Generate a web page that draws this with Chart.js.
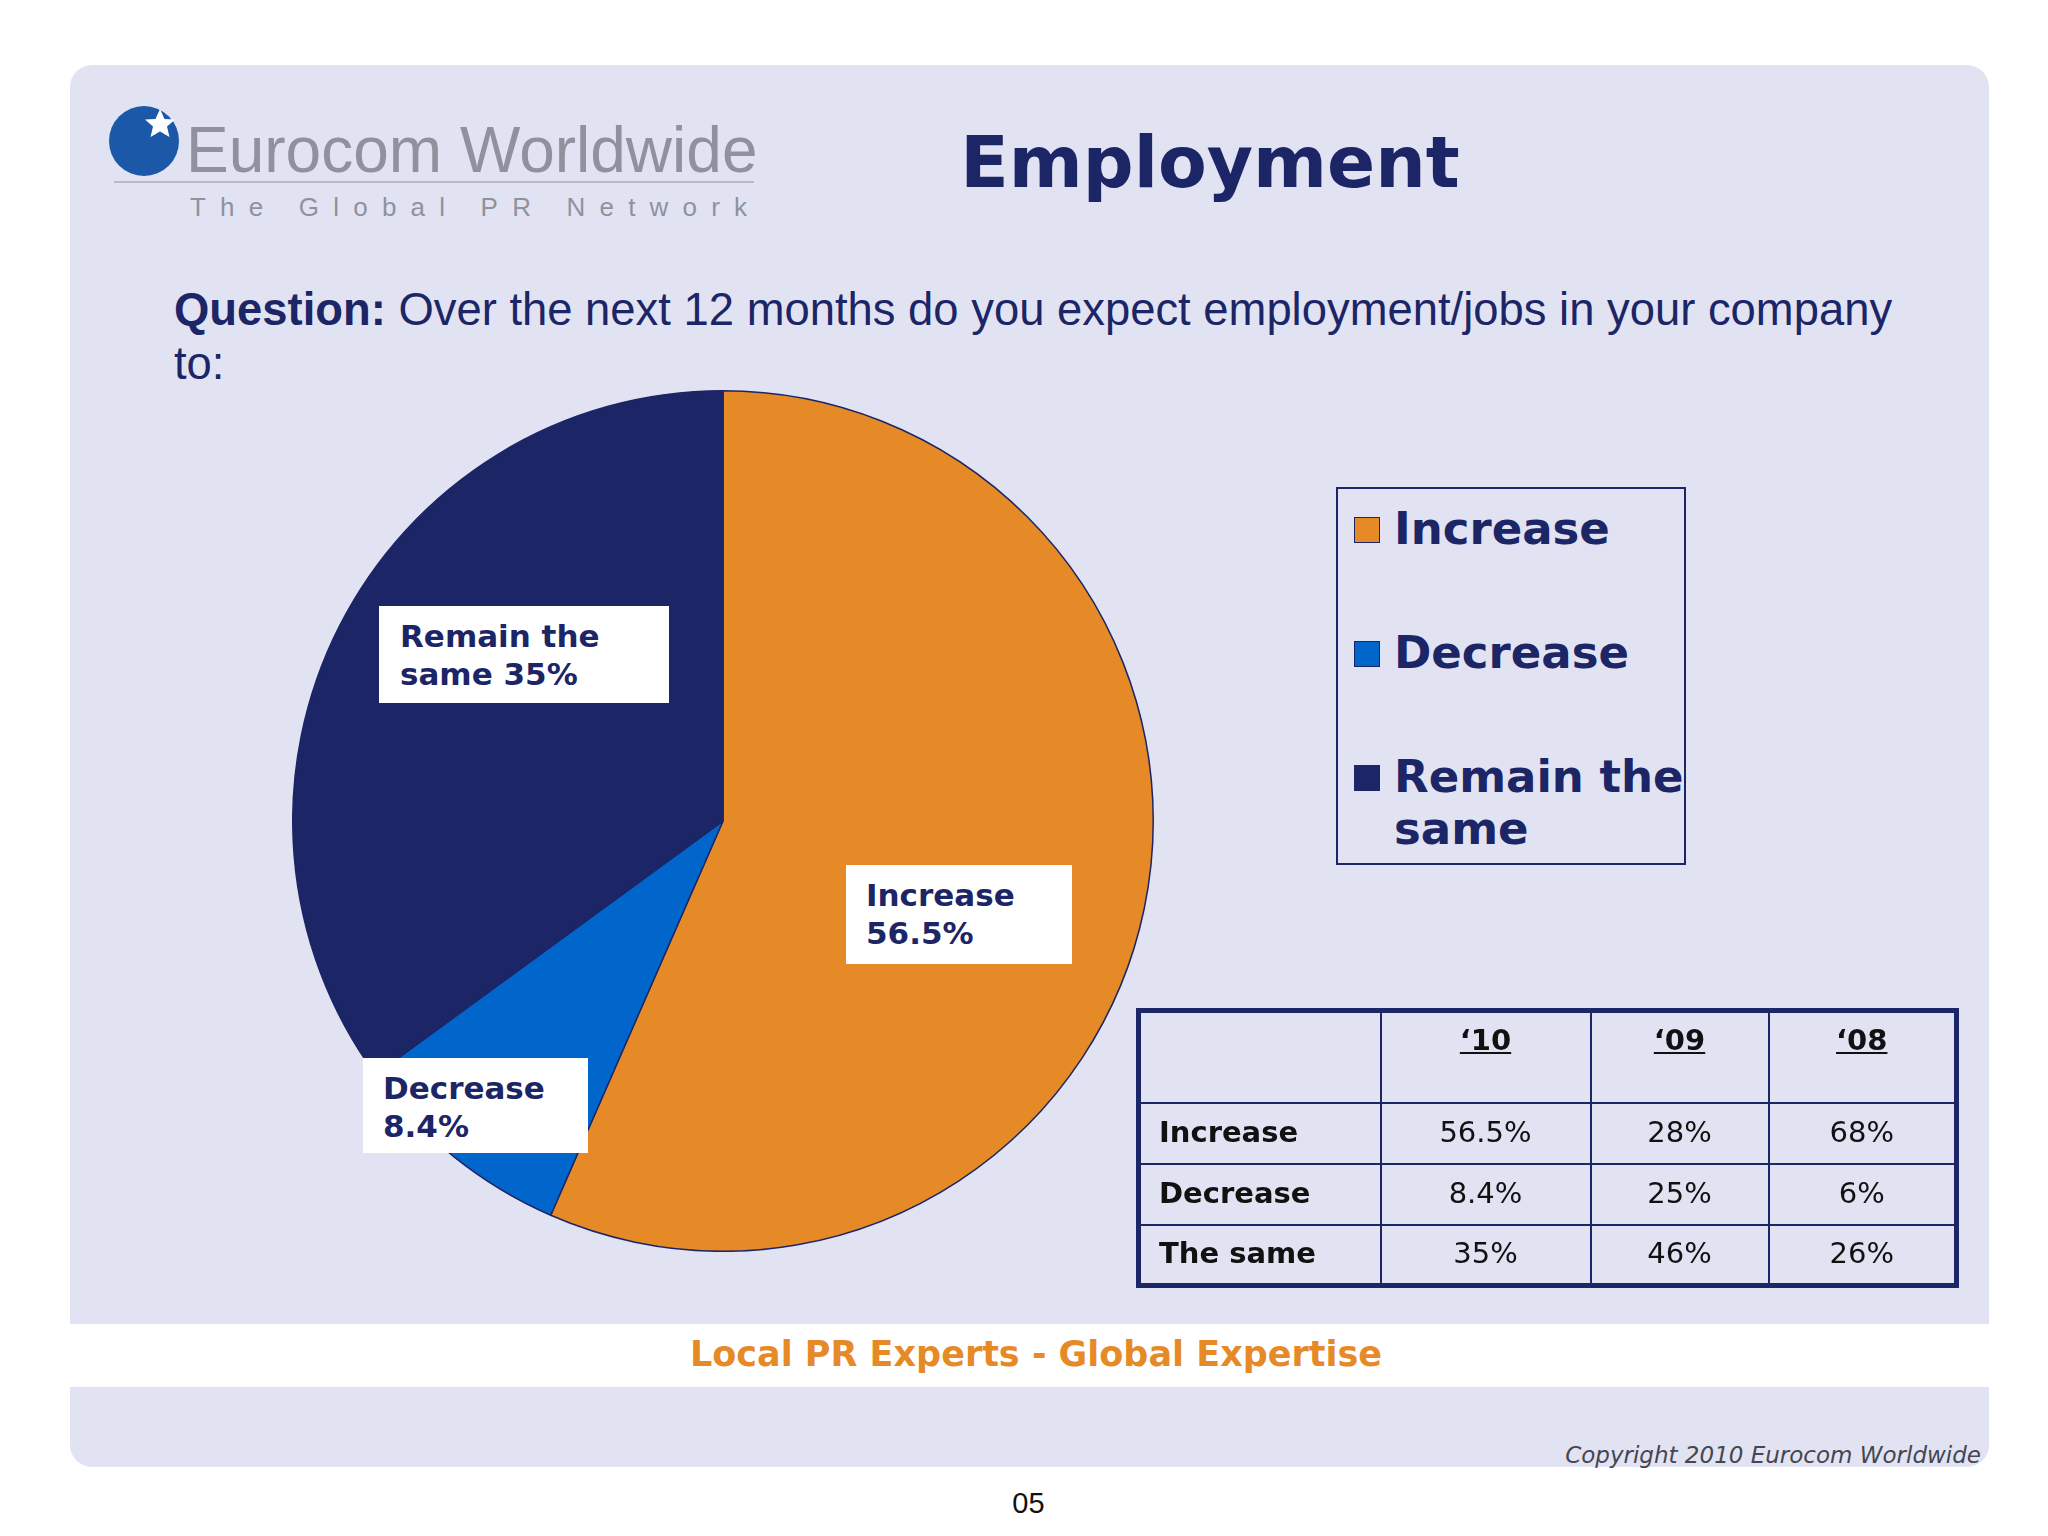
<!DOCTYPE html>
<html>
<head>
<meta charset="utf-8">
<script src="https://cdn.jsdelivr.net/npm/chart.js@4.4.1/dist/chart.umd.min.js"></script>
<style>
  html,body{margin:0;padding:0;background:#ffffff;width:2048px;height:1536px;overflow:hidden;}
  #page{position:relative;width:2048px;height:1536px;}
  .panel{position:absolute;left:70px;top:65px;width:1919px;height:1402px;background:#e1e3f3;border-radius:22px;}
  .band{position:absolute;left:70px;top:1324px;width:1919px;height:63px;background:#ffffff;}
  .logoText{position:absolute;left:186px;top:113px;font-family:"Liberation Sans",Arial,sans-serif;font-size:64px;color:#8f929c;}
  .logoLine{position:absolute;left:114px;top:181px;width:640px;height:2px;background:#b9bbc6;}
  .logoSub{position:absolute;left:190px;top:192px;font-family:"Liberation Sans",Arial,sans-serif;font-size:26px;color:#8f929c;letter-spacing:14.2px;}
  .title{position:absolute;left:900px;width:620px;top:121px;text-align:center;font-family:"DejaVu Sans",Verdana,sans-serif;font-weight:bold;font-size:71px;color:#1c2566;}
  .question{position:absolute;left:174px;top:283px;width:1860px;white-space:nowrap;font-family:"Liberation Sans",Arial,sans-serif;font-size:45.4px;line-height:54px;color:#1c2566;}
  .question b{font-weight:bold;}
  #chartBox{position:absolute;left:292px;top:390px;width:862px;height:862px;}
  .plabel{position:absolute;background:#ffffff;font-family:"DejaVu Sans",Verdana,sans-serif;font-weight:bold;font-size:31px;line-height:38px;color:#1c2566;box-sizing:border-box;}
  .legend{position:absolute;left:1336px;top:487px;width:350px;height:378px;border:2px solid #1c2566;box-sizing:border-box;font-family:"DejaVu Sans",Verdana,sans-serif;font-weight:bold;font-size:45px;color:#1c2566;}
  .legItem{position:absolute;left:56px;line-height:52px;}
  .legSw{position:absolute;width:26px;height:26px;left:16px;}
  table.data{position:absolute;left:1136px;top:1008px;width:823px;height:277px;border-collapse:collapse;border:5px solid #1c2566;font-family:"DejaVu Sans",Verdana,sans-serif;font-size:29px;color:#111111;}
  table.data td{border:2px solid #1c2566;text-align:center;padding:0 0 3px 0;}
  table.data td.rh{text-align:left;font-weight:bold;padding-left:18px;}
  table.data tr.hd td{font-weight:bold;text-decoration:underline;vertical-align:top;padding-top:10px;}
  .footer{position:absolute;left:0;width:2072px;top:1334px;text-align:center;font-family:"DejaVu Sans",Verdana,sans-serif;font-weight:bold;font-size:35px;color:#e68a27;}
  .copy{position:absolute;right:67px;top:1442px;font-family:"DejaVu Sans",Verdana,sans-serif;font-style:italic;font-size:23px;color:#444650;}
  .pnum{position:absolute;left:0;width:2057px;top:1487px;text-align:center;font-family:"Liberation Sans",Arial,sans-serif;font-size:29px;color:#111;}
</style>
</head>
<body>
<div id="page">
  <div class="panel"></div>
  <div class="band"></div>
  <svg style="position:absolute;left:106px;top:102px;" width="80" height="80" viewBox="0 0 80 80">
    <circle cx="38" cy="39" r="35" fill="#1b58a8"/>
    <polygon fill="#ffffff" points="54,7 58.5,17 69,17.5 61,24.5 63.5,35 54,29.5 44.5,35 47,24.5 39,17.5 49.5,17"/>
  </svg>
  <div class="logoText">Eurocom Worldwide</div>
  <div class="logoLine"></div>
  <div class="logoSub">The Global PR Network</div>
  <div class="title">Employment</div>
  <div class="question"><b>Question:</b> Over the next 12 months do you expect employment/jobs in your company<br>to:</div>
  <div id="chartBox"><canvas id="pie"></canvas></div>
  <div id="labels"></div>
  <div class="legend" id="legend"></div>
  <table class="data" id="tbl"></table>
  <div class="footer">Local PR Experts - Global Expertise</div>
  <div class="copy">Copyright 2010 Eurocom Worldwide</div>
  <div class="pnum">05</div>
</div>
<script>
// ---- data ----
const categories = ["Increase", "Decrease", "Remain the same"];
const values2010 = [56.5, 8.4, 35];
const sliceColors = ["#e68a27", "#0066cc", "#1c2566"];

const tableYears = ["\u201810", "\u201809", "\u201808"];
const tableRows = ["Increase", "Decrease", "The same"];
const table2010 = ["56.5%", "8.4%", "35%"];
const table2009 = ["28%", "25%", "46%"];
const table2008 = ["68%", "6%", "26%"];

// ---- pie ----
new Chart(document.getElementById('pie'), {
  type: 'pie',
  data: {
    labels: categories,
    datasets: [{
      data: values2010,
      backgroundColor: sliceColors,
      borderColor: "#1c2566",
      borderWidth: 1.5
    }]
  },
  options: {
    responsive: true,
    maintainAspectRatio: false,
    animation: false,
    layout: { padding: 0 },
    plugins: { legend: { display: false }, tooltip: { enabled: false } }
  }
});

// ---- pie labels (boxes) ----
const labelLines = [["Increase", values2010[0] + "%"], ["Decrease", values2010[1] + "%"], ["Remain the", "same " + values2010[2] + "%"]];
const labelBoxes = [
  {left:846, top:865, width:226, height:99, pad:20},
  {left:363, top:1058, width:225, height:95, pad:20},
  {left:379, top:606, width:290, height:97, pad:21}
];
const labWrap = document.getElementById('labels');
labelBoxes.forEach((b,i)=>{
  const d = document.createElement('div');
  d.className = 'plabel';
  d.style.left = b.left+'px'; d.style.top = b.top+'px';
  d.style.width = b.width+'px'; d.style.height = b.height+'px';
  d.style.paddingLeft = b.pad+'px';
  d.style.paddingTop = '11px';
  d.innerHTML = labelLines[i].join('<br>');
  labWrap.appendChild(d);
});

// ---- legend ----
const legTops = [14, 138, 262];
const leg = document.getElementById('legend');
categories.forEach((c,i)=>{
  const sw = document.createElement('div');
  sw.className='legSw'; sw.style.top=(legTops[i]+14)+'px'; sw.style.background=sliceColors[i];
  sw.style.border = '1px solid #1c2566'; sw.style.boxSizing='border-box';
  leg.appendChild(sw);
  const t = document.createElement('div');
  t.className='legItem'; t.style.top=legTops[i]+'px';
  t.innerHTML = c === "Remain the same" ? "Remain the<br>same" : c;
  leg.appendChild(t);
});

// ---- table ----
const tbl = document.getElementById('tbl');
let html = '<colgroup><col style="width:242px"><col style="width:210px"><col style="width:178px"><col></colgroup>';
html += '<tr class="hd" style="height:92px"><td></td>' + tableYears.map(y=>'<td>'+y+'</td>').join('') + '</tr>';
tableRows.forEach((r,i)=>{
  html += '<tr style="height:61px"><td class="rh">'+r+'</td><td>'+table2010[i]+'</td><td>'+table2009[i]+'</td><td>'+table2008[i]+'</td></tr>';
});
tbl.innerHTML = html;
</script>
</body>
</html>
